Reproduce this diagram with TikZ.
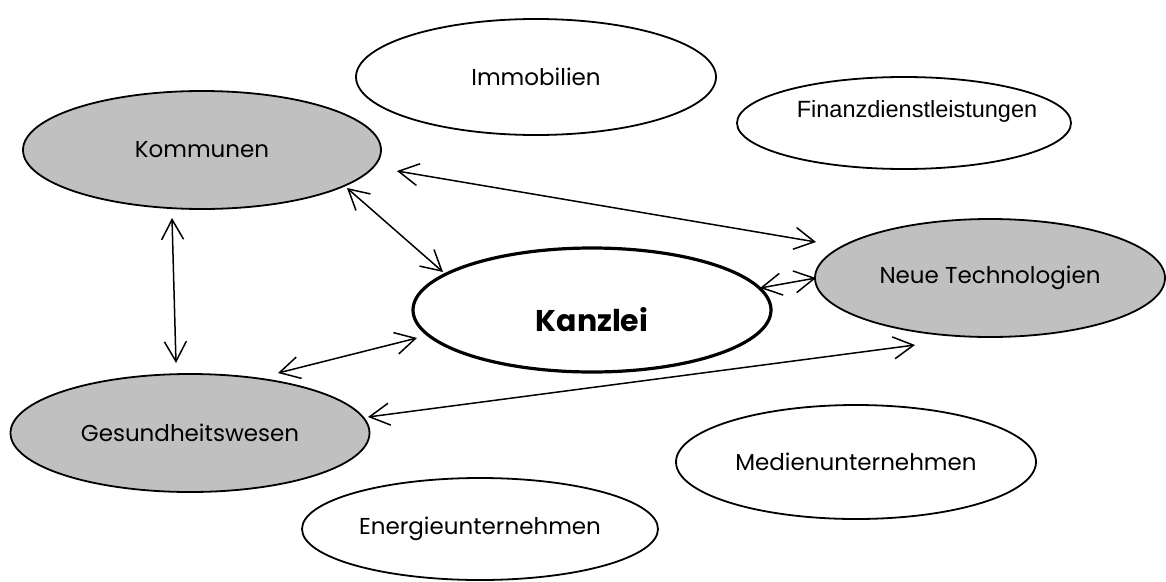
\documentclass[tikz,border=0pt]{standalone}
\usepackage{fontspec}
\setmainfont{Poppins}
\newfontfamily\arialfont{Liberation Sans}
\usetikzlibrary{arrows.meta,shapes.geometric}
\definecolor{silver}{HTML}{C0C0C0}
\tikzset{
  field/.style={ellipse, draw=black, line width=1.8pt, inner sep=0pt, font=\fontsize{23}{27}\selectfont},
  core/.style={field, fill=silver},
  hub/.style={field, line width=3.2pt, font=\bfseries\fontsize{30}{34}\selectfont},
  barb/.tip={Straight Barb[length=20pt,width=22pt]},
  link/.style={line width=1.5pt, barb-barb},
}
\begin{document}
\begin{tikzpicture}[x=1pt, y=-1pt]
	\useasboundingbox (0,0) rectangle (1166,581);
	\node[field, minimum width=360pt, minimum height=116pt] (immo) at (536,77)  {Immobilien};
	\node[field, minimum width=334pt, minimum height=92pt, font=\arialfont\fontsize{23.5}{28}\selectfont,
	      text height=5pt, text depth=17pt] (fin) at (904,123) {\makebox[0pt]{\hspace*{26pt}Finanzdienstleistungen}};
	\node[core,  minimum width=358pt, minimum height=118pt] (kom)  at (202,150) {Kommunen};
	\node[core,  minimum width=350pt, minimum height=118pt] (neu)  at (990,278) {Neue Technologien};
	\node[hub,   minimum width=358pt, minimum height=124pt, text height=42pt, text depth=0pt] (kan) at (592,310) {Kanzlei};
	\node[core,  minimum width=359pt, minimum height=118pt] (ges)  at (190,433) {Gesundheitswesen};
	\node[field, minimum width=360pt, minimum height=114pt] (med)  at (856,462) {Medienunternehmen};
	\node[field, minimum width=356pt, minimum height=102pt] (ene)  at (480,529) {Energieunternehmen};
	\draw[link] ([shift={(195,21)}]kom.center)  -- ([shift={(-174,-36)}]neu.center);
	\draw[link] ([shift={(145,38)}]kom.center)  -- ([shift={(-149,-38)}]kan.center);
	\draw[link] ([shift={(-30,68)}]kom.center)  -- ([shift={(-14,-70)}]ges.center);
	\draw[link] ([shift={(88,-60)}]ges.center)  -- ([shift={(-175,28)}]kan.center);
	\draw[link] ([shift={(178,-16)}]ges.center) -- ([shift={(-75,67)}]neu.center);
	\draw[link] ([shift={(168,-22)}]kan.center) -- ([shift={(-174,0)}]neu.center);
\end{tikzpicture}
\end{document}
